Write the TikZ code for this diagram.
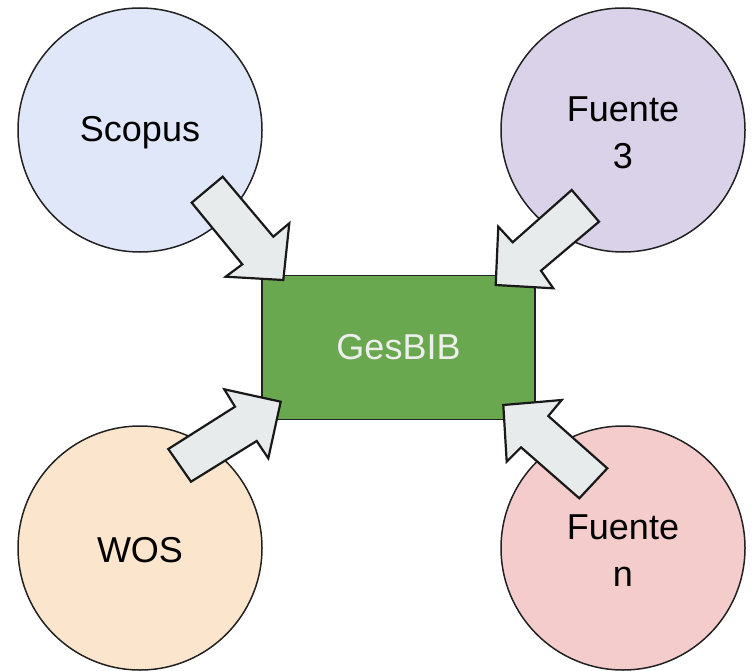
\documentclass[tikz,border=0pt]{standalone}
\usepackage{fontspec}
\setmainfont{Liberation Sans}
\definecolor{cblue}{HTML}{DFE7F8}
\definecolor{cpurple}{HTML}{D9D2E9}
\definecolor{corange}{HTML}{FCE5CD}
\definecolor{cpink}{HTML}{F4CCCC}
\definecolor{cgreen}{HTML}{6AA84F}
\definecolor{carrow}{HTML}{E8EBEC}
\definecolor{cline}{HTML}{222222}
\definecolor{ctext}{HTML}{EEEEEE}
\tikzset{
  src/.style={circle, draw=cline, line width=1.5pt, minimum size=244pt, inner sep=0pt},
  srclabel/.style={align=center, inner sep=0pt, font=\fontsize{36}{47}\selectfont},
  blockarrow/.style={draw=black!90, fill=carrow, line width=2.2pt, line join=miter}
}
\begin{document}
\begin{tikzpicture}[x=1pt,y=-1pt]
\useasboundingbox (0,0) rectangle (752,671);
\node[src, fill=cblue] (scopus) at (140,130) {};
\node[src, fill=cpurple] (f3) at (623,130) {};
\node[src, fill=corange] (wos) at (140,548) {};
\node[src, fill=cpink] (fn) at (623,548) {};
\node[srclabel] (scopusT) at ([yshift=-3pt]scopus.center) {Scopus};
\node[srclabel] (f3T) at ([yshift=-2.5pt]f3.center) {Fuente\\3};
\node[srclabel] (wosT) at ([yshift=-2.5pt]wos.center) {WOS};
\node[srclabel] (fnT) at ([yshift=-3pt]fn.center) {Fuente\\n};
\node[draw=cline, line width=1.5pt, fill=cgreen, minimum width=273pt, minimum height=144pt,
  text=ctext, font=\fontsize{36}{43}\selectfont] (gesbib) at (398.5,347.5) {GesBIB};
% block arrows
\draw[blockarrow] (191.7,202.7) -- (222.7,176.7) -- (273.3,236.7) -- (289.3,223.3)
  -- (283.3,280) -- (225.7,276.7) -- (242.3,264.3) -- cycle;
\draw[blockarrow] (571.7,190) -- (599,221.7) -- (541,270.7) -- (553.3,288.3)
  -- (495.7,285) -- (498.3,226.7) -- (512.7,242.3) -- cycle;
\draw[blockarrow] (168.3,449) -- (191,481.7) -- (256.7,441) -- (268.3,458.3)
  -- (280.7,401.7) -- (224.3,389.3) -- (235,406.7) -- cycle;
\draw[blockarrow] (607.3,468.3) -- (579.3,498.3) -- (521,447.3) -- (506.7,461.7)
  -- (503.3,405) -- (561.7,400) -- (548.3,416) -- cycle;
\end{tikzpicture}
\end{document}
